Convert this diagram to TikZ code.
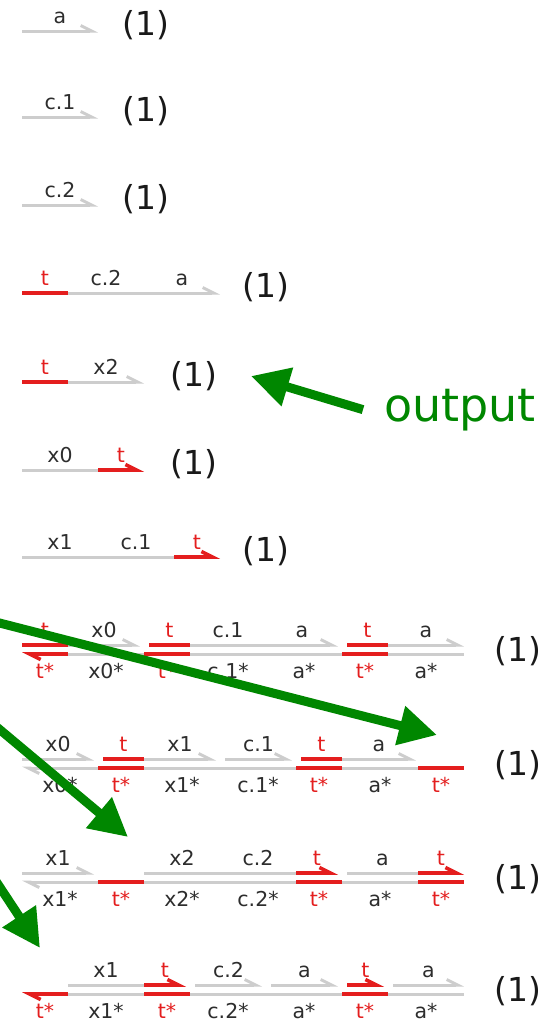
\documentclass[tikz,border=0pt]{standalone}
\usepackage{fontspec}
\newfontfamily\dsdfont{DejaVu Sans}
\usetikzlibrary{arrows.meta}
\definecolor{strandgray}{RGB}{205,205,205}
\definecolor{toered}{RGB}{228,30,30}
\definecolor{labgray}{RGB}{45,45,45}
\definecolor{outgreen}{RGB}{0,135,0}
\tikzset{
  dna/.style={draw=strandgray, line width=3pt},
  toe/.style={draw=toered, line width=3.6pt},
  tipr/.style={-{Straight Barb[harpoon,length=11pt,width=11pt]}},
  tipl/.style={{Straight Barb[harpoon,length=11pt,width=11pt]}-},
  lab/.style={font=\dsdfont\fontsize{20.5}{20.5}\selectfont, text=labgray, anchor=base, inner sep=0pt},
  dom/.style={lab, yshift=8pt},
  cdom/.style={lab, yshift=-24pt},
  tdom/.style={dom, text=toered},
  tcdom/.style={cdom, text=toered},
  count/.style={font=\dsdfont\fontsize{33}{33}\selectfont, text=black!90, anchor=west, inner sep=0pt},
  outarrow/.style={draw=outgreen, line width=9pt, -{Triangle[length=38pt,width=38pt]}}
}
\begin{document}
\begin{tikzpicture}[x=1pt,y=-1pt]
\path[use as bounding box, fill=white] (0,0) rectangle (555,1023);

% single strands
\draw[dna,tipr] (22,31) -- node[dom] (s1a) {a} (98,31);
\node[count] (n1) at (122,25) {(1)};

\draw[dna,tipr] (22,117) -- node[dom] (s2a) {c.1} (98,117);
\node[count] (n2) at (122,111) {(1)};

\draw[dna,tipr] (22,205) -- node[dom] (s3a) {c.2} (98,205);
\node[count] (n3) at (122,199) {(1)};

\draw[dna,tipr] (68,293) -- node[dom] (s4b) {c.2} (144,293) -- node[dom] (s4c) {a} (220,293);
\draw[toe] (22,293) -- node[tdom] (s4a) {t} (68,293);
\node[count] (n4) at (242,287) {(1)};

\draw[dna,tipr] (68,382) -- node[dom] (s5b) {x2} (144,382);
\draw[toe] (22,382) -- node[tdom] (s5a) {t} (68,382);
\node[count] (n5) at (170,376) {(1)};

\draw[dna] (22,470) -- node[dom] (s6a) {x0} (98,470);
\draw[toe,tipr] (98,470) -- node[tdom] (s6b) {t} (144,470);
\node[count] (n6) at (170,464) {(1)};

\draw[dna] (22,557) -- node[dom] (s7a) {x1} (98,557) -- node[dom] (s7b) {c.1} (174,557);
\draw[toe,tipr] (174,557) -- node[tdom] (s7c) {t} (220,557);
\node[count] (n7) at (242,551) {(1)};

% complex 8
\draw[dna,tipr] (68,645) -- node[dom] (t8b) {x0} (140,645);
\draw[toe] (22,645) -- node[tdom] (t8a) {t} (68,645);
\draw[dna,tipr] (190,645) -- node[dom] (t8d) {c.1} (266,645) -- node[dom] (t8e) {a} (338,645);
\draw[toe] (149,645) -- node[tdom] (t8c) {t} (190,645);
\draw[dna,tipr] (388,645) -- node[dom] (t8g) {a} (464,645);
\draw[toe] (347,645) -- node[tdom] (t8f) {t} (388,645);
\draw[dna] (68,654) -- node[cdom] (b8b) {x0*} (144,654) -- (190,654) -- node[cdom] (b8d) {c.1*} (266,654)
  -- node[cdom] (b8e) {a*} (342,654) -- (388,654) -- node[cdom] (b8g) {a*} (464,654);
\draw[toe,tipr] (68,654) -- node[tcdom] (b8a) {t*} (22,654);
\draw[toe] (144,654) -- node[tcdom] (b8c) {t*} (190,654);
\draw[toe] (342,654) -- node[tcdom] (b8f) {t*} (388,654);
\node[count] (n8) at (494,651) {(1)};

% complex 9
\draw[dna,tipr] (22,759) -- node[dom] (t9a) {x0} (94,759);
\draw[dna,tipr] (144,759) -- node[dom] (t9c) {x1} (216,759);
\draw[toe] (103,759) -- node[tdom] (t9b) {t} (144,759);
\draw[dna,tipr] (225,759) -- node[dom] (t9d) {c.1} (292,759);
\draw[dna,tipr] (342,759) -- node[dom] (t9f) {a} (416,759);
\draw[toe] (301,759) -- node[tdom] (t9e) {t} (342,759);
\draw[dna,tipl] (22,768) -- node[cdom] (b9a) {x0*} (98,768) -- (144,768) -- node[cdom] (b9c) {x1*} (220,768)
  -- node[cdom] (b9d) {c.1*} (296,768) -- (342,768) -- node[cdom] (b9f) {a*} (418,768) -- (464,768);
\draw[toe] (98,768) -- node[tcdom] (b9b) {t*} (144,768);
\draw[toe] (296,768) -- node[tcdom] (b9e) {t*} (342,768);
\draw[toe] (418,768) -- node[tcdom] (b9g) {t*} (464,768);
\node[count] (n9) at (494,765) {(1)};

% complex 10
\draw[dna,tipr] (22,873) -- node[dom] (t10a) {x1} (94,873);
\draw[dna] (144,873) -- node[dom] (t10c) {x2} (220,873) -- node[dom] (t10d) {c.2} (296,873);
\draw[toe,tipr] (296,873) -- node[tdom] (t10e) {t} (338,873);
\draw[dna] (347,873) -- node[dom] (t10f) {a} (418,873);
\draw[toe,tipr] (418,873) -- node[tdom] (t10g) {t} (464,873);
\draw[dna,tipl] (22,882) -- node[cdom] (b10a) {x1*} (98,882) -- (144,882) -- node[cdom] (b10c) {x2*} (220,882)
  -- node[cdom] (b10d) {c.2*} (296,882) -- (342,882) -- node[cdom] (b10f) {a*} (418,882) -- (464,882);
\draw[toe] (98,882) -- node[tcdom] (b10b) {t*} (144,882);
\draw[toe] (296,882) -- node[tcdom] (b10e) {t*} (342,882);
\draw[toe] (418,882) -- node[tcdom] (b10g) {t*} (464,882);
\node[count] (n10) at (494,879) {(1)};

% complex 11
\draw[dna] (68,985) -- node[dom] (t11b) {x1} (144,985);
\draw[toe,tipr] (144,985) -- node[tdom] (t11c) {t} (186,985);
\draw[dna,tipr] (195,985) -- node[dom] (t11d) {c.2} (262,985);
\draw[dna,tipr] (271,985) -- node[dom] (t11e) {a} (338,985);
\draw[toe,tipr] (347,985) -- node[tdom] (t11f) {t} (384,985);
\draw[dna,tipr] (393,985) -- node[dom] (t11g) {a} (464,985);
\draw[dna] (68,994) -- node[cdom] (b11b) {x1*} (144,994) -- (190,994) -- node[cdom] (b11d) {c.2*} (266,994)
  -- node[cdom] (b11e) {a*} (342,994) -- (388,994) -- node[cdom] (b11g) {a*} (464,994);
\draw[toe,tipr] (68,994) -- node[tcdom] (b11a) {t*} (22,994);
\draw[toe] (144,994) -- node[tcdom] (b11c) {t*} (190,994);
\draw[toe] (342,994) -- node[tcdom] (b11f) {t*} (388,994);
\node[count] (n11) at (494,991) {(1)};

% green pointers
\node[font=\dsdfont\fontsize{46}{46}\selectfont, text=outgreen, anchor=base west, inner xsep=21pt] (out) at (363,421) {output};
\coordinate (tip5) at (251,376);
\coordinate (from8) at (-20,618);
\coordinate (tip9) at (437,735);
\coordinate (from9) at (-20,713);
\coordinate (tip10) at (128,837);
\coordinate (from10) at (-20,857);
\coordinate (tip11) at (40,948);
\draw[outarrow] (out.west) -- (tip5);
\draw[outarrow] (from8) -- (tip9);
\draw[outarrow] (from9) -- (tip10);
\draw[outarrow] (from10) -- (tip11);
\end{tikzpicture}
\end{document}
